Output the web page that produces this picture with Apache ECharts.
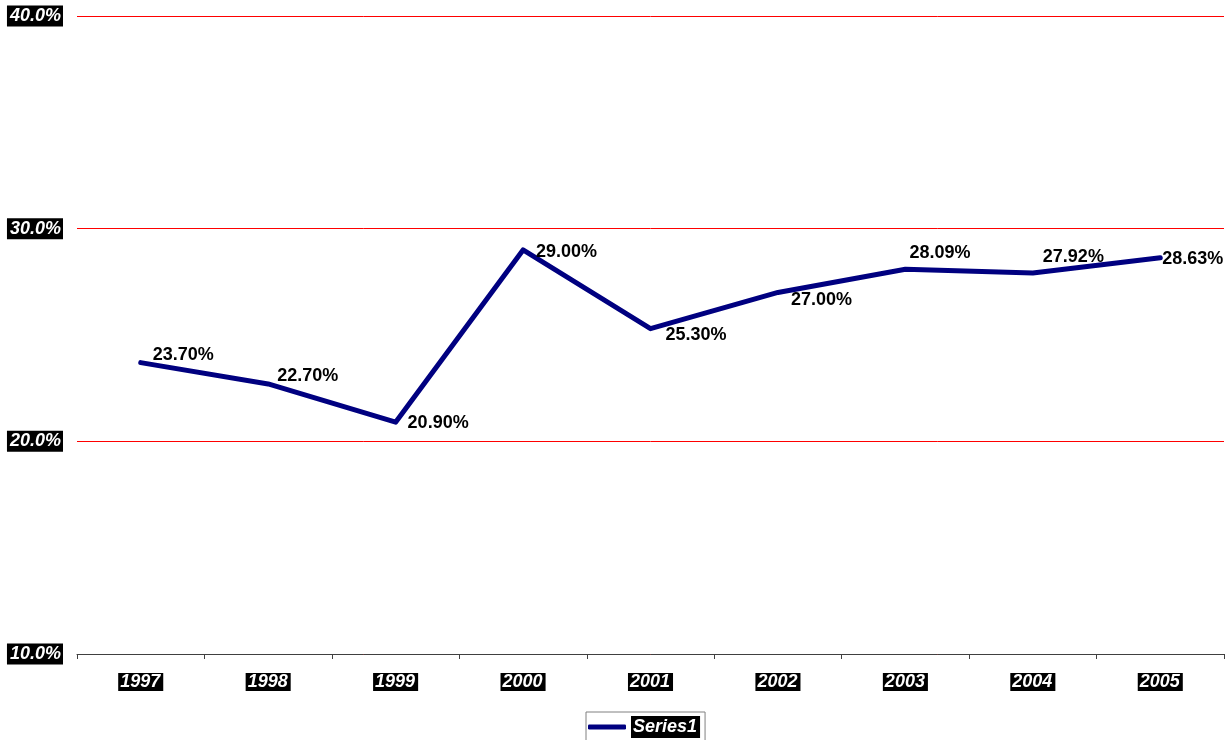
<!DOCTYPE html>
<html>
<head>
<meta charset="utf-8">
<script src="https://cdn.jsdelivr.net/npm/echarts@6/dist/echarts.min.js"></script>
<style>
html,body{margin:0;padding:0;background:#fff;}
#chart{width:1230px;height:740px;}
</style>
</head>
<body>
<div id="chart"></div>
<script>
var categories = ['1997','1998','1999','2000','2001','2002','2003','2004','2005'];
var seriesName = 'Series1';
var values = [23.70, 22.70, 20.90, 29.00, 25.30, 27.00, 28.09, 27.92, 28.63];
var yTicks = [10, 20, 30, 40];

// label placement offsets (style only)
var labelOffsets = [[11,-8],[8,-8],[11,1],[12,2],[14,6],[12,8],[3,-16],[9,-16],[1,1]];

var FONT = '"Liberation Sans", Arial, sans-serif';
var chart = echarts.init(document.getElementById('chart'));

var dataItems = values.map(function(v, i){
  return {
    value: v,
    label: { offset: labelOffsets[i] }
  };
});

chart.setOption({
  animation: false,
  backgroundColor: '#ffffff',
  grid: { left: 77, right: 6, top: 16, bottom: 86, containLabel: false },
  xAxis: {
    type: 'category',
    data: categories,
    boundaryGap: true,
    axisLine: { show: true, lineStyle: { color: '#404040', width: 1 } },
    axisTick: { show: true, length: 5, inside: false, alignWithLabel: false, lineStyle: { color: '#404040' } },
    axisLabel: {
      margin: 19,
      color: '#ffffff',
      backgroundColor: '#000000',
      fontFamily: FONT,
      fontSize: 18,
      fontWeight: 'bold',
      fontStyle: 'italic',
      lineHeight: 18,
      padding: [0, 3, 0, 2]
    },
    splitLine: { show: false }
  },
  yAxis: {
    type: 'value',
    min: yTicks[0],
    max: yTicks[yTicks.length - 1],
    interval: 10,
    axisLine: { show: false },
    axisTick: { show: false },
    axisLabel: {
      margin: 14,
      color: '#ffffff',
      backgroundColor: '#000000',
      fontFamily: FONT,
      fontSize: 18,
      fontWeight: 'bold',
      fontStyle: 'italic',
      lineHeight: 20,
      padding: [1, 2, 0, 3],
      formatter: function(v){ return v.toFixed(1) + '%'; }
    },
    splitLine: { show: true, lineStyle: { color: '#ff0000', width: 1 } }
  },
  legend: {
    left: 586,
    top: 712,
    orient: 'horizontal',
    borderColor: '#808080',
    borderWidth: 1,
    padding: [4, 5, 6, 2],
    itemWidth: 38,
    itemHeight: 5,
    icon: 'roundRect',
    data: [seriesName],
    textStyle: {
      color: '#ffffff',
      backgroundColor: '#000000',
      fontFamily: FONT,
      fontSize: 18,
      fontWeight: 'bold',
      fontStyle: 'italic',
      lineHeight: 20,
      padding: [1, 3, 1, 2]
    }
  },
  series: [{
    name: seriesName,
    type: 'line',
    data: dataItems,
    symbol: 'circle',
    symbolSize: 2,
    showSymbol: true,
    itemStyle: { color: '#000080' },
    lineStyle: { color: '#000080', width: 5, cap: 'round', join: 'round' },
    label: {
      show: true,
      position: 'right',
      distance: 0,
      color: '#000000',
      fontFamily: FONT,
      fontSize: 18,
      fontWeight: 'bold',
      formatter: function(p){ return p.value.toFixed(2) + '%'; }
    },
    emphasis: { disabled: true }
  }]
});
</script>
</body>
</html>
